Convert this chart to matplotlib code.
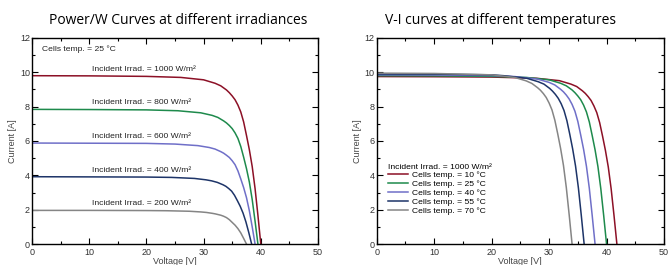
import numpy as np
import matplotlib
matplotlib.use("Agg")
import matplotlib.pyplot as plt
from matplotlib.ticker import MultipleLocator

# colours of the five curves (same order in both panels)
colors = ["#8c1026", "#1e8a4c", "#6f6fc8", "#1d3468", "#858585"]

# ---- left panel: 25 C, different irradiances ----
irr_labels = ["Incident Irrad. = 1000 W/m²", "Incident Irrad. = 800 W/m²",
              "Incident Irrad. = 600 W/m²", "Incident Irrad. = 400 W/m²",
              "Incident Irrad. = 200 W/m²"]
v_1000 = [0, 10, 20, 26, 30, 32, 33, 34, 34.5, 35, 35.5, 36, 36.5, 37, 37.5, 38, 38.5, 39, 39.5, 40]
i_1000 = [9.80, 9.79, 9.76, 9.70, 9.56, 9.36, 9.21, 8.97, 8.81, 8.62, 8.40, 8.09, 7.69, 7.11, 6.32,
          5.49, 4.51, 3.23, 1.67, 0]
v_800 = [0, 10, 20, 25.5, 29.5, 31.5, 32.5, 33.5, 34, 34.5, 35, 35.5, 36, 36.5, 37, 37.5, 38, 38.5,
         39, 39.5]
i_800 = [7.84, 7.83, 7.81, 7.76, 7.64, 7.49, 7.37, 7.17, 7.05, 6.90, 6.72, 6.47, 6.15, 5.68, 5.06,
         4.39, 3.61, 2.59, 1.33, 0]
v_600 = [0, 10, 20, 25, 29, 31, 32, 33, 33.5, 34, 34.5, 35, 35.5, 36, 36.5, 37, 37.5, 38, 38.5, 39]
i_600 = [5.88, 5.87, 5.86, 5.82, 5.73, 5.62, 5.53, 5.38, 5.29, 5.17, 5.04, 4.85, 4.62, 4.26, 3.79,
         3.29, 2.70, 1.94, 1.00, 0]
v_400 = [0, 10, 20, 24.4, 28.4, 30.4, 31.4, 32.4, 32.9, 33.4, 33.9, 34.4, 34.9, 35.4, 35.9, 36.4,
         36.9, 37.4, 37.9, 38.4]
i_400 = [3.92, 3.91, 3.90, 3.88, 3.82, 3.74, 3.68, 3.59, 3.52, 3.45, 3.36, 3.23, 3.08, 2.84, 2.53,
         2.20, 1.80, 1.29, 0.67, 0]
v_200 = [0, 10, 20, 23.5, 27.5, 29.5, 30.5, 31.5, 32, 32.5, 33, 33.5, 34, 34.5, 35, 35.5, 36, 36.5,
         37, 37.5]
i_200 = [1.96, 1.96, 1.95, 1.94, 1.91, 1.87, 1.84, 1.79, 1.76, 1.72, 1.68, 1.62, 1.54, 1.42, 1.26,
         1.10, 0.90, 0.65, 0.33, 0]

# ---- right panel: 1000 W/m2, different temperatures ----
temp_labels = ["Cells temp. = 10 °C", "Cells temp. = 25 °C", "Cells temp. = 40 °C",
               "Cells temp. = 55 °C", "Cells temp. = 70 °C"]
v_t10 = [0, 10, 20, 27.8, 31.8, 33.8, 34.8, 35.8, 36.3, 36.8, 37.3, 37.8, 38.3, 38.8, 39.3, 39.8,
         40.3, 40.8, 41.3, 41.8]
i_t10 = [9.75, 9.74, 9.72, 9.65, 9.51, 9.31, 9.17, 8.92, 8.77, 8.58, 8.36, 8.04, 7.65, 7.07, 6.29,
         5.46, 4.49, 3.22, 1.66, 0]
v_t25 = v_1000
i_t25 = i_1000
v_t40 = [0, 10, 20, 24, 28, 30, 31, 32, 32.5, 33, 33.5, 34, 34.5, 35, 35.5, 36, 36.5, 37, 37.5, 38]
i_t40 = [9.85, 9.84, 9.81, 9.75, 9.60, 9.41, 9.26, 9.01, 8.86, 8.67, 8.44, 8.13, 7.73, 7.14, 6.35,
         5.52, 4.53, 3.25, 1.67, 0]
v_t55 = [0, 10, 20, 22.1, 26.1, 28.1, 29.1, 30.1, 30.6, 31.1, 31.6, 32.1, 32.6, 33.1, 33.6, 34.1,
         34.6, 35.1, 35.6, 36.1]
i_t55 = [9.90, 9.89, 9.85, 9.80, 9.65, 9.45, 9.31, 9.06, 8.90, 8.71, 8.48, 8.17, 7.77, 7.18, 6.39,
         5.54, 4.55, 3.27, 1.68, 0]
v_t70 = [0, 10, 20, 24, 26, 27, 28, 28.5, 29, 29.5, 30, 30.5, 31, 31.5, 32, 32.5, 33, 33.5, 34]
i_t70 = [9.95, 9.93, 9.85, 9.70, 9.50, 9.35, 9.10, 8.95, 8.76, 8.53, 8.21, 7.81, 7.21, 6.42, 5.57,
         4.58, 3.28, 1.69, 0]

left_v = [v_1000, v_800, v_600, v_400, v_200]
left_i = [i_1000, i_800, i_600, i_400, i_200]
right_v = [v_t10, v_t25, v_t40, v_t55, v_t70]
right_i = [i_t10, i_t25, i_t40, i_t55, i_t70]

plt.rcParams['font.family'] = ['Liberation Sans', 'DejaVu Sans']

fig = plt.figure(figsize=(6.68, 2.65), dpi=100)
ax1 = fig.add_axes([0.048, 0.079, 0.428, 0.778])
ax2 = fig.add_axes([0.564, 0.079, 0.430, 0.778])


def style(ax):
    ax.set_xlim(0, 50)
    ax.set_ylim(0, 12)
    ax.xaxis.set_major_locator(MultipleLocator(10))
    ax.xaxis.set_minor_locator(MultipleLocator(5))
    ax.yaxis.set_major_locator(MultipleLocator(2))
    ax.yaxis.set_minor_locator(MultipleLocator(1))
    ax.tick_params(which='both', direction='in', top=True, right=True,
                   labelsize=6.5, labelcolor='#333333', width=0.8)
    ax.tick_params(axis='x', pad=2.5)
    ax.tick_params(axis='y', pad=1.5)
    ax.tick_params(which='major', length=4)
    ax.tick_params(which='minor', length=2)
    for s in ax.spines.values():
        s.set_linewidth(1.0)
    ax.set_xlabel("Voltage [V]", fontsize=6.5, color='#444444', labelpad=0)
    ax.set_ylabel("Current [A]", fontsize=6.5, color='#444444', labelpad=2)


for v, i, c, lab in zip(left_v, left_i, colors, irr_labels):
    ax1.plot(v, i, color=c, lw=1.1)
    ax1.text(10.5, i[0] + 0.38, lab, fontsize=6.1, color='#222222', va='center')
ax1.text(1.8, 11.35, "Cells temp. = 25 °C", fontsize=6.1, color='#222222', va='center')
style(ax1)
ax1.set_title("Power/W Curves at different irradiances", fontsize=10,
              family=['Open Sans', 'DejaVu Sans'], pad=10, x=0.51)

for v, i, c, lab in zip(right_v, right_i, colors, temp_labels):
    ax2.plot(v, i, color=c, lw=1.1, label=lab)
style(ax2)
leg = ax2.legend(loc='upper left', bbox_to_anchor=(0.038, 0.39), frameon=False,
                 fontsize=6.1, title="Incident Irrad. = 1000 W/m²", title_fontsize=6.1,
                 alignment='left', handlelength=2.4, handletextpad=0.5,
                 labelspacing=0.1, borderpad=0, borderaxespad=0)
ax2.set_title("V-I curves at different temperatures", fontsize=10,
              family=['Open Sans', 'DejaVu Sans'], pad=10, x=0.432)

fig.savefig("out.png", dpi=100)
